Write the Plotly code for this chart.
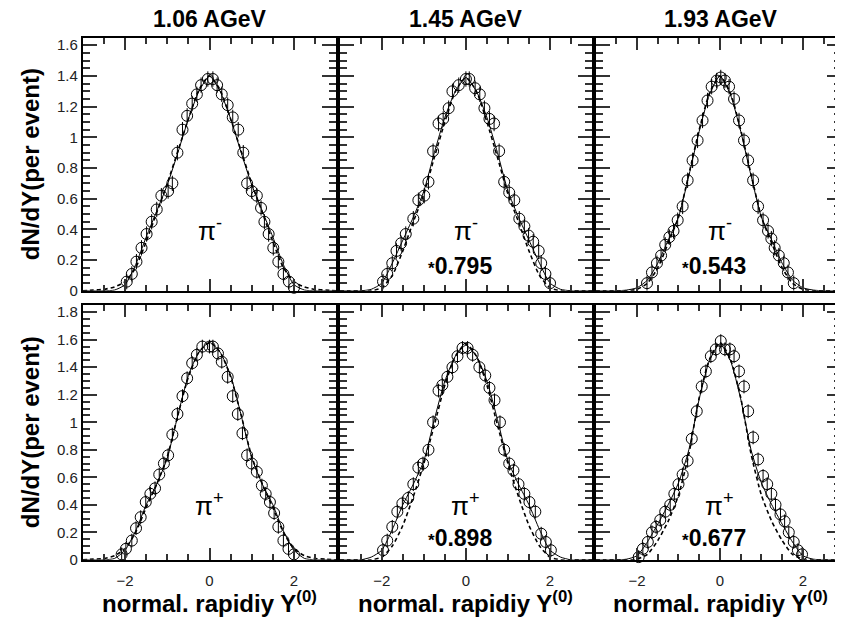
import plotly.graph_objects as go

# column headers / particle labels / scale factors
ENERGIES = ["1.06 AGeV", "1.45 AGeV", "1.93 AGeV"]
PIONS = ["π<sup>-</sup>", "π<sup>+</sup>"]
SCALE_TOP = [None, "0.795", "0.543"]
SCALE_BOT = [None, "0.898", "0.677"]
Y_TICKS_TOP = [0, 0.2, 0.4, 0.6, 0.8, 1, 1.2, 1.4, 1.6]
Y_TICKS_BOT = [0, 0.2, 0.4, 0.6, 0.8, 1, 1.2, 1.4, 1.6, 1.8]
X_TICKS = [-2, 0, 2]
ERR = 0.05

# measured dN/dY points  (top row: pi-, bottom row: pi+)
X_106M = [-1.96, -1.84, -1.73, -1.61, -1.49, -1.37, -1.25, -1.14, -0.98, -0.88, -0.76, -0.64,
          -0.53, -0.41, -0.30, -0.20, -0.04, 0.08, 0.18, 0.29, 0.43, 0.55, 0.68, 0.80, 0.89,
          1.00, 1.12, 1.22, 1.30, 1.40, 1.51, 1.63, 1.75, 1.88, 2.00]
Y_106M = [0.06, 0.11, 0.19, 0.28, 0.37, 0.45, 0.53, 0.62, 0.65, 0.70, 0.90, 1.05,
          1.14, 1.22, 1.28, 1.34, 1.38, 1.38, 1.34, 1.28, 1.21, 1.13, 1.05, 0.90, 0.70,
          0.65, 0.62, 0.54, 0.45, 0.37, 0.28, 0.19, 0.11, 0.06, 0.02]
X_145M = [-1.97, -1.87, -1.75, -1.65, -1.54, -1.43, -1.25, -1.13, -0.99, -0.89, -0.78, -0.65,
          -0.54, -0.41, -0.32, -0.17, 0.00, 0.08, 0.22, 0.33, 0.44, 0.56, 0.67, 0.79, 0.91,
          1.03, 1.15, 1.27, 1.39, 1.49, 1.60, 1.73, 1.79, 1.89, 2.00]
Y_145M = [0.06, 0.11, 0.18, 0.26, 0.31, 0.37, 0.47, 0.59, 0.62, 0.71, 0.91, 1.09,
          1.12, 1.19, 1.30, 1.34, 1.38, 1.38, 1.32, 1.28, 1.19, 1.12, 1.09, 0.91, 0.71,
          0.64, 0.59, 0.47, 0.42, 0.36, 0.32, 0.26, 0.18, 0.11, 0.05]
X_193M = [-1.76, -1.64, -1.52, -1.42, -1.32, -1.22, -1.12, -1.02, -0.90, -0.78, -0.66, -0.54,
          -0.42, -0.30, -0.20, -0.08, 0.02, 0.12, 0.22, 0.34, 0.46, 0.58, 0.68, 0.80, 0.92,
          1.04, 1.16, 1.24, 1.32, 1.42, 1.54, 1.64, 1.78]
Y_193M = [0.05, 0.12, 0.18, 0.23, 0.30, 0.35, 0.39, 0.46, 0.55, 0.72, 0.85, 0.98,
          1.11, 1.24, 1.33, 1.37, 1.39, 1.37, 1.33, 1.25, 1.11, 0.98, 0.85, 0.72, 0.55,
          0.46, 0.39, 0.34, 0.28, 0.23, 0.18, 0.12, 0.05]
X_106P = [-2.08, -1.98, -1.84, -1.74, -1.63, -1.51, -1.40, -1.29, -1.19, -1.08, -0.98, -0.88,
          -0.76, -0.64, -0.53, -0.41, -0.30, -0.17, 0.00, 0.08, 0.20, 0.29, 0.43, 0.55, 0.67,
          0.78, 0.89, 1.00, 1.12, 1.24, 1.33, 1.43, 1.53, 1.63, 1.75, 1.87, 2.00]
Y_106P = [0.04, 0.08, 0.14, 0.23, 0.31, 0.42, 0.48, 0.52, 0.62, 0.70, 0.76, 0.91,
          1.06, 1.19, 1.32, 1.43, 1.49, 1.55, 1.55, 1.55, 1.50, 1.44, 1.33, 1.19, 1.06,
          0.92, 0.76, 0.70, 0.64, 0.54, 0.48, 0.42, 0.34, 0.24, 0.14, 0.08, 0.04]
X_145P = [-1.97, -1.87, -1.75, -1.63, -1.51, -1.37, -1.25, -1.13, -1.02, -0.89, -0.78, -0.65,
          -0.56, -0.44, -0.32, -0.20, -0.08, 0.04, 0.16, 0.32, 0.46, 0.56, 0.68, 0.81, 0.91,
          1.03, 1.13, 1.25, 1.39, 1.51, 1.65, 1.79, 1.90, 2.02]
Y_145P = [0.07, 0.14, 0.24, 0.35, 0.41, 0.45, 0.55, 0.67, 0.70, 0.80, 1.00, 1.23,
          1.27, 1.33, 1.40, 1.48, 1.54, 1.54, 1.49, 1.40, 1.34, 1.25, 1.16, 1.00, 0.80,
          0.70, 0.65, 0.55, 0.48, 0.42, 0.35, 0.19, 0.13, 0.07]
X_193P = [-1.96, -1.86, -1.74, -1.64, -1.54, -1.44, -1.32, -1.20, -1.10, -1.00, -0.90, -0.78,
          -0.68, -0.56, -0.44, -0.34, -0.22, -0.10, 0.02, 0.12, 0.24, 0.34, 0.46, 0.58, 0.68,
          0.80, 0.92, 1.04, 1.14, 1.24, 1.34, 1.46, 1.56, 1.66, 1.78, 1.88, 1.98]
Y_193P = [0.02, 0.08, 0.13, 0.20, 0.24, 0.29, 0.35, 0.40, 0.48, 0.55, 0.62, 0.72,
          0.88, 1.08, 1.26, 1.37, 1.48, 1.53, 1.59, 1.53, 1.53, 1.48, 1.37, 1.26, 1.08,
          0.89, 0.73, 0.61, 0.55, 0.48, 0.40, 0.33, 0.28, 0.20, 0.13, 0.07, 0.04]

# model curves (solid and dashed), sampled on a common grid
CURVE_X = [-3.0, -2.75, -2.5, -2.25, -2.0, -1.75, -1.5, -1.25, -1.0, -0.75, -0.5, -0.25, 0.0,
           0.25, 0.5, 0.75, 1.0, 1.25, 1.5, 1.75, 2.0, 2.25, 2.5, 2.75, 3.0]
SOLID_106M = [0, 0, 0, 0.005, 0.04, 0.17, 0.35, 0.52, 0.69, 0.90, 1.12, 1.30, 1.40,
              1.30, 1.12, 0.90, 0.69, 0.52, 0.35, 0.17, 0.04, 0.005, 0, 0, 0]
DASH_106M = [0, 0.005, 0.01, 0.025, 0.06, 0.15, 0.32, 0.51, 0.70, 0.91, 1.12, 1.31, 1.40,
             1.31, 1.12, 0.91, 0.70, 0.51, 0.32, 0.15, 0.06, 0.025, 0.01, 0.005, 0]
SOLID_145M = [0, 0, 0, 0.01, 0.05, 0.18, 0.33, 0.48, 0.65, 0.90, 1.13, 1.30, 1.39,
              1.30, 1.13, 0.90, 0.65, 0.48, 0.33, 0.18, 0.05, 0.01, 0, 0, 0]
DASH_145M = [0, 0, 0, 0, 0.02, 0.10, 0.26, 0.45, 0.63, 0.87, 1.10, 1.30, 1.39,
             1.30, 1.10, 0.87, 0.63, 0.45, 0.26, 0.10, 0.02, 0, 0, 0, 0]
SOLID_193M = [0, 0, 0, 0.005, 0.02, 0.07, 0.18, 0.33, 0.48, 0.75, 1.04, 1.28, 1.40,
              1.28, 1.04, 0.75, 0.48, 0.33, 0.18, 0.07, 0.02, 0.005, 0, 0, 0]
DASH_193M = [0, 0, 0, 0, 0.01, 0.05, 0.15, 0.31, 0.48, 0.76, 1.05, 1.29, 1.40,
             1.29, 1.05, 0.76, 0.48, 0.31, 0.15, 0.05, 0.01, 0, 0, 0, 0]
SOLID_106P = [0, 0, 0, 0.01, 0.07, 0.21, 0.40, 0.55, 0.74, 1.05, 1.34, 1.51, 1.58,
              1.51, 1.34, 1.05, 0.74, 0.55, 0.40, 0.21, 0.07, 0.01, 0, 0, 0]
DASH_106P = [0, 0.005, 0.01, 0.03, 0.08, 0.20, 0.38, 0.55, 0.75, 1.05, 1.33, 1.51, 1.58,
             1.51, 1.33, 1.05, 0.75, 0.55, 0.38, 0.20, 0.08, 0.03, 0.01, 0.005, 0]
SOLID_145P = [0, 0, 0, 0.02, 0.07, 0.22, 0.40, 0.55, 0.72, 1.02, 1.30, 1.48, 1.56,
              1.48, 1.30, 1.02, 0.72, 0.55, 0.40, 0.22, 0.07, 0.02, 0, 0, 0]
DASH_145P = [0, 0, 0, 0, 0.02, 0.10, 0.25, 0.46, 0.70, 0.98, 1.27, 1.48, 1.57,
             1.48, 1.27, 0.98, 0.70, 0.46, 0.25, 0.10, 0.02, 0, 0, 0, 0]
SOLID_193P = [0, 0, 0, 0.005, 0.03, 0.13, 0.26, 0.40, 0.56, 0.80, 1.17, 1.45, 1.57,
              1.45, 1.17, 0.80, 0.56, 0.40, 0.26, 0.13, 0.03, 0.005, 0, 0, 0]
DASH_193P = [0, 0, 0, 0, 0.005, 0.04, 0.14, 0.28, 0.47, 0.77, 1.18, 1.46, 1.58,
             1.46, 1.18, 0.77, 0.47, 0.28, 0.14, 0.04, 0.005, 0, 0, 0, 0]

PANELS = [
    [(X_106M, Y_106M, SOLID_106M, DASH_106M), (X_145M, Y_145M, SOLID_145M, DASH_145M),
     (X_193M, Y_193M, SOLID_193M, DASH_193M)],
    [(X_106P, Y_106P, SOLID_106P, DASH_106P), (X_145P, Y_145P, SOLID_145P, DASH_145P),
     (X_193P, Y_193P, SOLID_193P, DASH_193P)],
]

# the page body adds an 8px margin, so lay out in page pixels minus OFF
OFF = 8
W, H = 843 - OFF, 625 - OFF
COL_PX = [(83, 337), (340.5, 593.5), (597, 843)]
ROW_PX = [(37, 294), (308, 567)]
X_RANGES = [[-3, 3], [-3, 3], [-3, 2.92]]
Y_RANGES = [[0, 1.65], [0, 1.855]]
FAM = "Liberation Sans, Arial, sans-serif"
TICKFONT = dict(family=FAM, size=15, color="#222")


def px_x(p):
    return (p - OFF) / W


def px_y(p):
    return 1 - (p - OFF) / H


fig = go.Figure()
layout = dict(
    width=W, height=H, margin=dict(l=0, r=0, t=0, b=0),
    paper_bgcolor="white", plot_bgcolor="white", showlegend=False,
)
annotations = []

for r in range(2):
    for c in range(3):
        idx = r * 3 + c + 1
        sfx = "" if idx == 1 else str(idx)
        xa, ya = f"x{sfx}", f"y{sfx}"
        xd, yd, solid, dash = PANELS[r][c]
        fig.add_trace(go.Scatter(
            x=CURVE_X, y=solid, mode="lines", xaxis=xa, yaxis=ya,
            line=dict(color="black", width=1, shape="spline", smoothing=0.6),
            hoverinfo="skip"))
        fig.add_trace(go.Scatter(
            x=CURVE_X, y=dash, mode="lines", xaxis=xa, yaxis=ya,
            line=dict(color="black", width=1.6, dash="4px,3px", shape="spline", smoothing=0.6),
            hoverinfo="skip"))
        fig.add_trace(go.Scatter(
            x=xd, y=yd, mode="markers", xaxis=xa, yaxis=ya,
            marker=dict(symbol="circle-open", size=11, color="black", line=dict(width=1)),
            error_y=dict(type="constant", value=ERR, thickness=1, width=0, color="black"),
            cliponaxis=False))

        x0, x1 = COL_PX[c]
        y0, y1 = ROW_PX[r]
        layout[f"xaxis{sfx}"] = dict(
            domain=[px_x(x0), min(px_x(x1), 1.0)], range=X_RANGES[c], anchor=ya,
            showline=True, linecolor="black", linewidth=2, mirror="allticks",
            ticks="inside", ticklen=12, tickwidth=1.5, tickcolor="#333",
            tickvals=X_TICKS, showticklabels=(r == 1), tickfont=TICKFONT,
            ticklabelstandoff=6,
            minor=dict(dtick=0.5, tick0=0, ticks="inside", ticklen=6, tickwidth=1.5,
                       tickcolor="#333", showgrid=False),
            showgrid=False, zeroline=False, fixedrange=True,
        )
        layout[f"yaxis{sfx}"] = dict(
            domain=[px_y(y1), px_y(y0)], range=Y_RANGES[r], anchor=xa,
            showline=True, linecolor="black", linewidth=2, mirror="allticks",
            ticks="inside", ticklen=14, tickwidth=1.5, tickcolor="#333",
            tickvals=Y_TICKS_TOP if r == 0 else Y_TICKS_BOT,
            showticklabels=(c == 0), tickfont=TICKFONT,
            minor=dict(dtick=0.05, tick0=0, ticks="inside", ticklen=7, tickwidth=1.5,
                       tickcolor="#333", showgrid=False),
            showgrid=False, zeroline=False, fixedrange=True,
        )

        # particle label and scale factor
        annotations.append(dict(
            x=0, y=0.40, xref=xa, yref=ya, text=PIONS[r], showarrow=False,
            xanchor="center", yanchor="middle",
            font=dict(family=FAM, size=26, color="black")))
        scale = (SCALE_TOP if r == 0 else SCALE_BOT)[c]
        if scale:
            annotations.append(dict(
                x=-0.15, y=0.16, xref=xa, yref=ya, showarrow=False,
                xanchor="center", yanchor="middle",
                text=f"<b><span style='font-size:17px'>*</span>{scale}</b>",
                font=dict(family=FAM, size=23, color="black")))

for c, label in enumerate(ENERGIES):
    x0, x1 = COL_PX[c]
    cx = (x0 + x1) / 2 if c < 2 else (597 + 848) / 2
    annotations.append(dict(
        x=px_x(cx), y=px_y(18), xref="paper", yref="paper", showarrow=False,
        xanchor="center", yanchor="middle",
        text=f"<b>{label}</b>", font=dict(family=FAM, size=23, color="black")))
    annotations.append(dict(
        x=px_x(cx), y=px_y(610), xref="paper", yref="paper", showarrow=False,
        xanchor="center", yanchor="middle",
        text="<b>normal. rapidiy Y<sup>(0)</sup></b>",
        font=dict(family=FAM, size=24, color="black")))

for r in range(2):
    y0, y1 = ROW_PX[r]
    annotations.append(dict(
        x=px_x(30), y=px_y((y0 + y1) / 2), xref="paper", yref="paper", showarrow=False,
        xanchor="center", yanchor="middle",
        text="<b>dN/dY(per event)</b>", textangle=-90,
        font=dict(family=FAM, size=24, color="black")))

layout["annotations"] = annotations
fig.update_layout(**layout)
fig.write_html("out.html")
